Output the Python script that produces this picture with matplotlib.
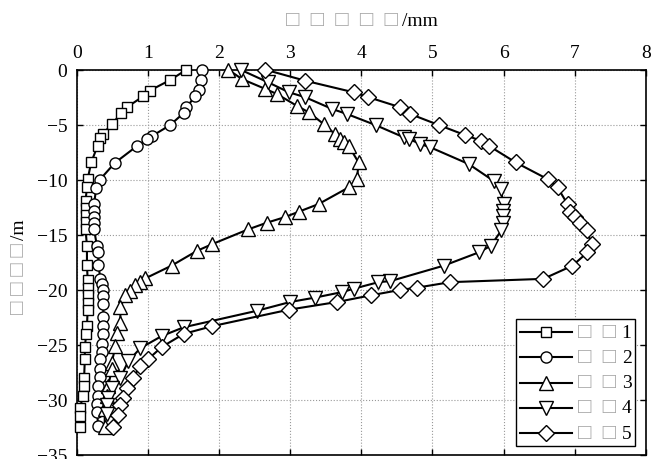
import matplotlib
matplotlib.use('Agg')
import matplotlib.pyplot as plt
from matplotlib.lines import Line2D
from matplotlib.offsetbox import AnchoredOffsetbox, DrawingArea, HPacker, VPacker, TextArea

plt.rcParams['font.family'] = ['Liberation Serif', 'DejaVu Sans']

# horizontal displacement (mm) against depth (m), five cases
x1 = [1.54, 1.31, 1.02, 0.93, 0.70, 0.62, 0.49, 0.36, 0.33, 0.29,
      0.20, 0.15, 0.14, 0.12, 0.12, 0.12, 0.12, 0.12, 0.14, 0.14,
      0.15, 0.15, 0.15, 0.15, 0.15, 0.14, 0.13, 0.11, 0.11, 0.10,
      0.10, 0.09, 0.04, 0.04, 0.04]
y1 = [0, -0.94, -1.91, -2.42, -3.42, -3.96, -4.96, -5.85, -6.24, -6.91,
      -8.42, -9.94, -10.69, -11.9, -12.6, -13.2, -13.8, -14.5, -16.0, -17.7,
      -19.1, -19.8, -20.5, -21.2, -21.8, -23.3, -24.0, -25.2, -26.3, -28.0,
      -28.7, -29.6, -30.7, -31.5, -32.5]

x2 = [1.76, 1.75, 1.71, 1.66, 1.54, 1.50, 1.31, 1.05, 0.99, 0.84,
      0.53, 0.32, 0.27, 0.24, 0.24, 0.24, 0.24, 0.24, 0.28, 0.30,
      0.30, 0.33, 0.35, 0.36, 0.37, 0.37, 0.37, 0.37, 0.36, 0.35,
      0.35, 0.33, 0.32, 0.32, 0.30, 0.29, 0.28, 0.28, 0.30]
y2 = [0, -0.94, -1.82, -2.42, -3.42, -3.94, -5.03, -6.05, -6.3, -6.95,
      -8.48, -10.0, -10.78, -12.2, -12.8, -13.4, -13.9, -14.5, -16.0, -16.6,
      -17.75, -19.0, -19.5, -20.0, -20.6, -21.3, -22.5, -23.3, -24.0, -24.9,
      -25.6, -26.3, -27.2, -27.9, -28.7, -29.6, -30.4, -31.1, -32.4]

x3 = [2.13, 2.32, 2.65, 2.81, 3.09, 3.26, 3.47, 3.63, 3.70, 3.76,
      3.82, 3.96, 3.94, 3.82, 3.40, 3.12, 2.92, 2.67, 2.41, 1.90,
      1.69, 1.33, 0.96, 0.89, 0.82, 0.75, 0.68, 0.61, 0.61, 0.56,
      0.54, 0.49, 0.49, 0.44, 0.42, 0.39, 0.39]
y3 = [0, -0.85, -1.75, -2.2, -3.27, -3.87, -4.94, -5.85, -6.3, -6.6,
      -6.9, -8.42, -9.94, -10.7, -12.2, -12.9, -13.4, -13.9, -14.5, -15.85,
      -16.45, -17.8, -18.96, -19.3, -19.6, -20.1, -20.5, -21.6, -23.0, -23.9,
      -25.1, -26.6, -27.2, -28.7, -29.6, -30.8, -32.5]

x4 = [2.30, 2.69, 2.98, 3.21, 3.59, 3.80, 4.20, 4.60, 4.67, 4.83,
      4.97, 5.51, 5.86, 5.96, 6.00, 5.99, 5.99, 5.99, 5.97, 5.82,
      5.65, 5.16, 4.41, 4.24, 3.89, 3.73, 3.35, 3.00, 2.53, 1.50,
      1.19, 0.89, 0.72, 0.61, 0.49, 0.44, 0.42, 0.42]
y4 = [0, -1.15, -2.05, -2.5, -3.57, -4.03, -5.03, -6.15, -6.3, -6.75,
      -7.05, -8.57, -10.1, -10.85, -12.2, -12.8, -13.3, -13.9, -14.6, -16.0,
      -16.6, -17.8, -19.2, -19.3, -19.9, -20.2, -20.7, -21.1, -21.9, -23.4,
      -24.2, -25.3, -26.5, -28.0, -28.9, -29.8, -30.5, -31.3]

x5 = [2.65, 3.21, 3.89, 4.10, 4.55, 4.69, 5.09, 5.46, 5.68, 5.79,
      6.17, 6.62, 6.76, 6.90, 6.94, 7.01, 7.08, 7.17, 7.24, 7.18,
      6.97, 6.56, 5.25, 4.78, 4.55, 4.13, 3.66, 2.98, 1.90, 1.50,
      1.19, 1.00, 0.89, 0.79, 0.70, 0.65, 0.60, 0.58, 0.51]
y5 = [0, -1.0, -2.05, -2.5, -3.42, -4.03, -5.03, -5.94, -6.45, -6.9,
      -8.42, -9.94, -10.7, -12.2, -12.9, -13.4, -13.9, -14.6, -15.85, -16.6,
      -17.8, -19.0, -19.3, -19.8, -20.0, -20.5, -21.1, -21.8, -23.3, -24.0,
      -25.2, -26.3, -26.9, -28.0, -28.9, -29.8, -30.5, -31.4, -32.5]

case_labels = ['1', '2', '3', '4', '5']
x_ticks = [0, 1, 2, 3, 4, 5, 6, 7, 8]
y_ticks = [0, -5, -10, -15, -20, -25, -30, -35]

# the original labels were CJK text shown as missing-glyph boxes
tofu = '\u25a1'
tofu_color = '#a8a8a8'
xlabel_boxes = '\u2002'.join([tofu] * 5)
ylabel_boxes = ' '.join([tofu] * 4)
legend_boxes = '\u2002'.join([tofu] * 2)

series = [(x1, y1), (x2, y2), (x3, y3), (x4, y4), (x5, y5)]
styles = [('s', 7.5), ('o', 8), ('^', 10), ('v', 10), ('D', 8)]

fig = plt.figure(figsize=(6.6, 4.6), dpi=100)
ax = fig.add_axes([77 / 660, 4 / 460, 568.7 / 660, 385.3 / 460])

for (xs, ys), (m, ms) in zip(series, styles):
    ax.plot(xs, ys, color='k', lw=1.5, marker=m, ms=ms, mfc='w', mec='k',
            mew=1, clip_on=False, zorder=3)

ax.set_xlim(0, 8)
ax.set_ylim(-35, 0)
ax.set_xticks(x_ticks)
ax.set_yticks(y_ticks)
ax.xaxis.tick_top()
ax.tick_params(direction='in', top=True, bottom=True, left=True, right=True,
               labeltop=True, labelbottom=False, labelsize=14,
               length=4.5, width=1)
ax.tick_params(axis='x', pad=6)
ax.tick_params(axis='y', pad=7)
ax.grid(True, ls=':', lw=0.8, color='0.6')
for s in ax.spines.values():
    s.set_linewidth(1.2)

# x label: boxes + unit, on top
xl = HPacker(children=[TextArea(xlabel_boxes, textprops=dict(color=tofu_color, size=16)),
                       TextArea('/mm', textprops=dict(size=14))],
             sep=3, align='baseline')
fig.add_artist(AnchoredOffsetbox(loc='center', child=xl, pad=0, borderpad=0, frameon=False,
                                 bbox_to_anchor=(362 / 660, 1 - 21 / 460),
                                 bbox_transform=fig.transFigure))

# y label
fig.text(20 / 660, 1 - 314 / 460, ylabel_boxes, rotation=90, ha='center', va='bottom',
         color=tofu_color, size=16)
fig.text(20 / 660, 1 - 240 / 460, '/m', rotation=90, ha='center', va='bottom', size=14)

# legend
rows = []
for (m, ms), lab in zip(styles, case_labels):
    da = DrawingArea(38, 12)
    da.add_artist(Line2D([0, 38], [6, 6], color='k', lw=1.5))
    da.add_artist(Line2D([19], [6], marker=m, ms=ms, mfc='w', mec='k', mew=1))
    rows.append(HPacker(children=[da,
                                  TextArea(legend_boxes, textprops=dict(color=tofu_color, size=16)),
                                  TextArea(lab, textprops=dict(size=14))],
                        sep=4, align='center'))
leg = AnchoredOffsetbox(loc='lower right', child=VPacker(children=rows, sep=4.5, align='left'),
                        pad=0.25, borderpad=0, frameon=True,
                        bbox_to_anchor=(635 / 660, 1 - 447 / 460),
                        bbox_transform=fig.transFigure, prop=dict(size=10))
leg.patch.set_boxstyle('square', pad=0)
leg.patch.set_edgecolor('k')
leg.patch.set_linewidth(1)
ax.add_artist(leg)

fig.savefig('out.png', dpi=100)
